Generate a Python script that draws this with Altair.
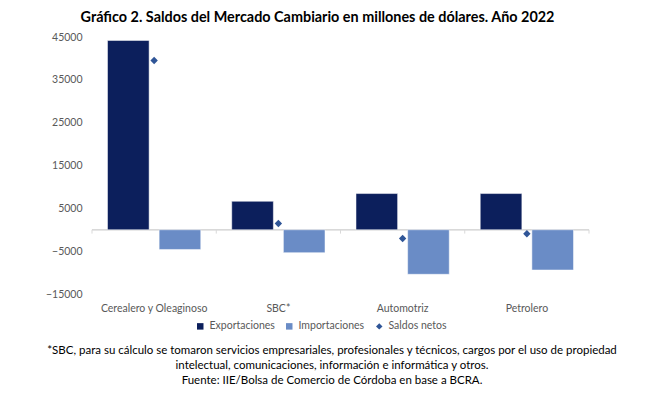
import altair as alt
import pandas as pd

categorias = ["Cerealero y Oleaginoso", "SBC*", "Automotriz", "Petrolero"]
exportaciones = [44200, 6650, 8450, 8450]
importaciones = [-4600, -5350, -10400, -9400]
saldos_netos = [39500, 1450, -2050, -950]
series = ["Exportaciones", "Importaciones", "Saldos netos"]
colores = ["#0c1f5c", "#6a8cc6", "#2f5597"]
formas = ["square", "square", "diamond"]
y_ticks = [-15000, -5000, 5000, 15000, 25000, 35000, 45000]

titulo = "Gráfico 2. Saldos del Mercado Cambiario en millones de dólares. Año 2022"
nota = [
    "*SBC, para su cálculo se tomaron servicios empresariales, profesionales y técnicos, cargos por el uso de propiedad",
    "intelectual, comunicaciones, información e informática y otros.",
    "Fuente: IIE/Bolsa de Comercio de Córdoba en base a BCRA.",
]

W, H = 497, 257
FONT = "Lato"
GRAY = "#595959"

bars_df = pd.DataFrame(
    [{"cat": c, "serie": "Exportaciones", "valor": v} for c, v in zip(categorias, exportaciones)]
    + [{"cat": c, "serie": "Importaciones", "valor": v} for c, v in zip(categorias, importaciones)]
)
net_df = pd.DataFrame({"cat": categorias, "serie": "Saldos netos", "valor": saldos_netos})
cat_df = pd.DataFrame({"cat": categorias})

x_enc = alt.X(
    "cat:N",
    sort=categorias,
    scale=alt.Scale(domain=categorias, paddingInner=0, paddingOuter=0),
    axis=alt.Axis(title=None, labelAngle=0, labelAlign="center", labelBaseline="top",
                  domain=False, ticks=False,
                  labelColor=GRAY, labelFontSize=10.5, labelFont=FONT, labelPadding=9),
)
y_scale = alt.Scale(domain=[-15000, 45000], nice=False, zero=False)
y_axis = alt.Axis(title=None, values=y_ticks, format="d", domain=False, ticks=False, grid=False,
                  labelColor=GRAY, labelFontSize=10.5, labelFont=FONT, labelPadding=10)

color_scale = alt.Scale(domain=series, range=colores)
shape_scale = alt.Scale(domain=series, range=formas)
legend = alt.Legend(title=None, orient="none", legendX=103, legendY=284, direction="horizontal",
                    labelColor=GRAY, labelFontSize=10.5, labelFont=FONT, symbolSize=42,
                    labelOffset=4, columnPadding=9, symbolStrokeWidth=0)

zero_line = alt.Chart(cat_df).mark_rule(color="#d9d9d9", strokeWidth=1).encode(
    y=alt.datum(0, scale=y_scale), x=alt.value(0), x2=alt.value(W)
)
ticks = alt.Chart(cat_df).mark_rule(color="#d9d9d9", strokeWidth=1, xOffset=-W / 8).encode(
    x=alt.X("cat:N", sort=categorias),
    y=alt.datum(0), y2=alt.datum(-900),
)
tick_end = alt.Chart(cat_df.head(1)).mark_rule(color="#d9d9d9", strokeWidth=1).encode(
    x=alt.value(W), y=alt.datum(0), y2=alt.datum(-900),
)

bars = alt.Chart(bars_df).mark_bar(stroke="white", strokeWidth=0.5).encode(
    x=x_enc,
    xOffset=alt.XOffset("serie:N", sort=series[:2],
                        scale=alt.Scale(domain=series[:2], paddingInner=0.194, paddingOuter=0.3)),
    y=alt.Y("valor:Q", scale=y_scale, axis=y_axis),
    color=alt.Color("serie:N", scale=color_scale, legend=legend),
)

points = alt.Chart(net_df).mark_point(filled=True, size=55, opacity=1).encode(
    x=alt.X("cat:N", sort=categorias),
    y=alt.Y("valor:Q"),
    color=alt.Color("serie:N", scale=color_scale, legend=legend),
    shape=alt.Shape("serie:N", scale=shape_scale, legend=legend),
)

footnote = alt.Chart(cat_df.head(1)).mark_text(
    text=nota, align="center", baseline="top", fontSize=11.5, font=FONT, color="black", lineHeight=15
).encode(x=alt.value(240), y=alt.value(308))

chart = alt.layer(zero_line, ticks, tick_end, bars, points, footnote).properties(
    width=W, height=H,
    title=alt.Title(titulo, fontSize=14.4, fontWeight="bold", font=FONT, color="black",
                    anchor="middle", dx=-23, offset=7),
    autosize=alt.AutoSizeParams(type="none"),
    padding={"left": 84, "top": 29, "right": 74, "bottom": 96},
).configure_view(stroke=None)

chart.save("out.html", embed_options={"renderer": "svg", "actions": False})
